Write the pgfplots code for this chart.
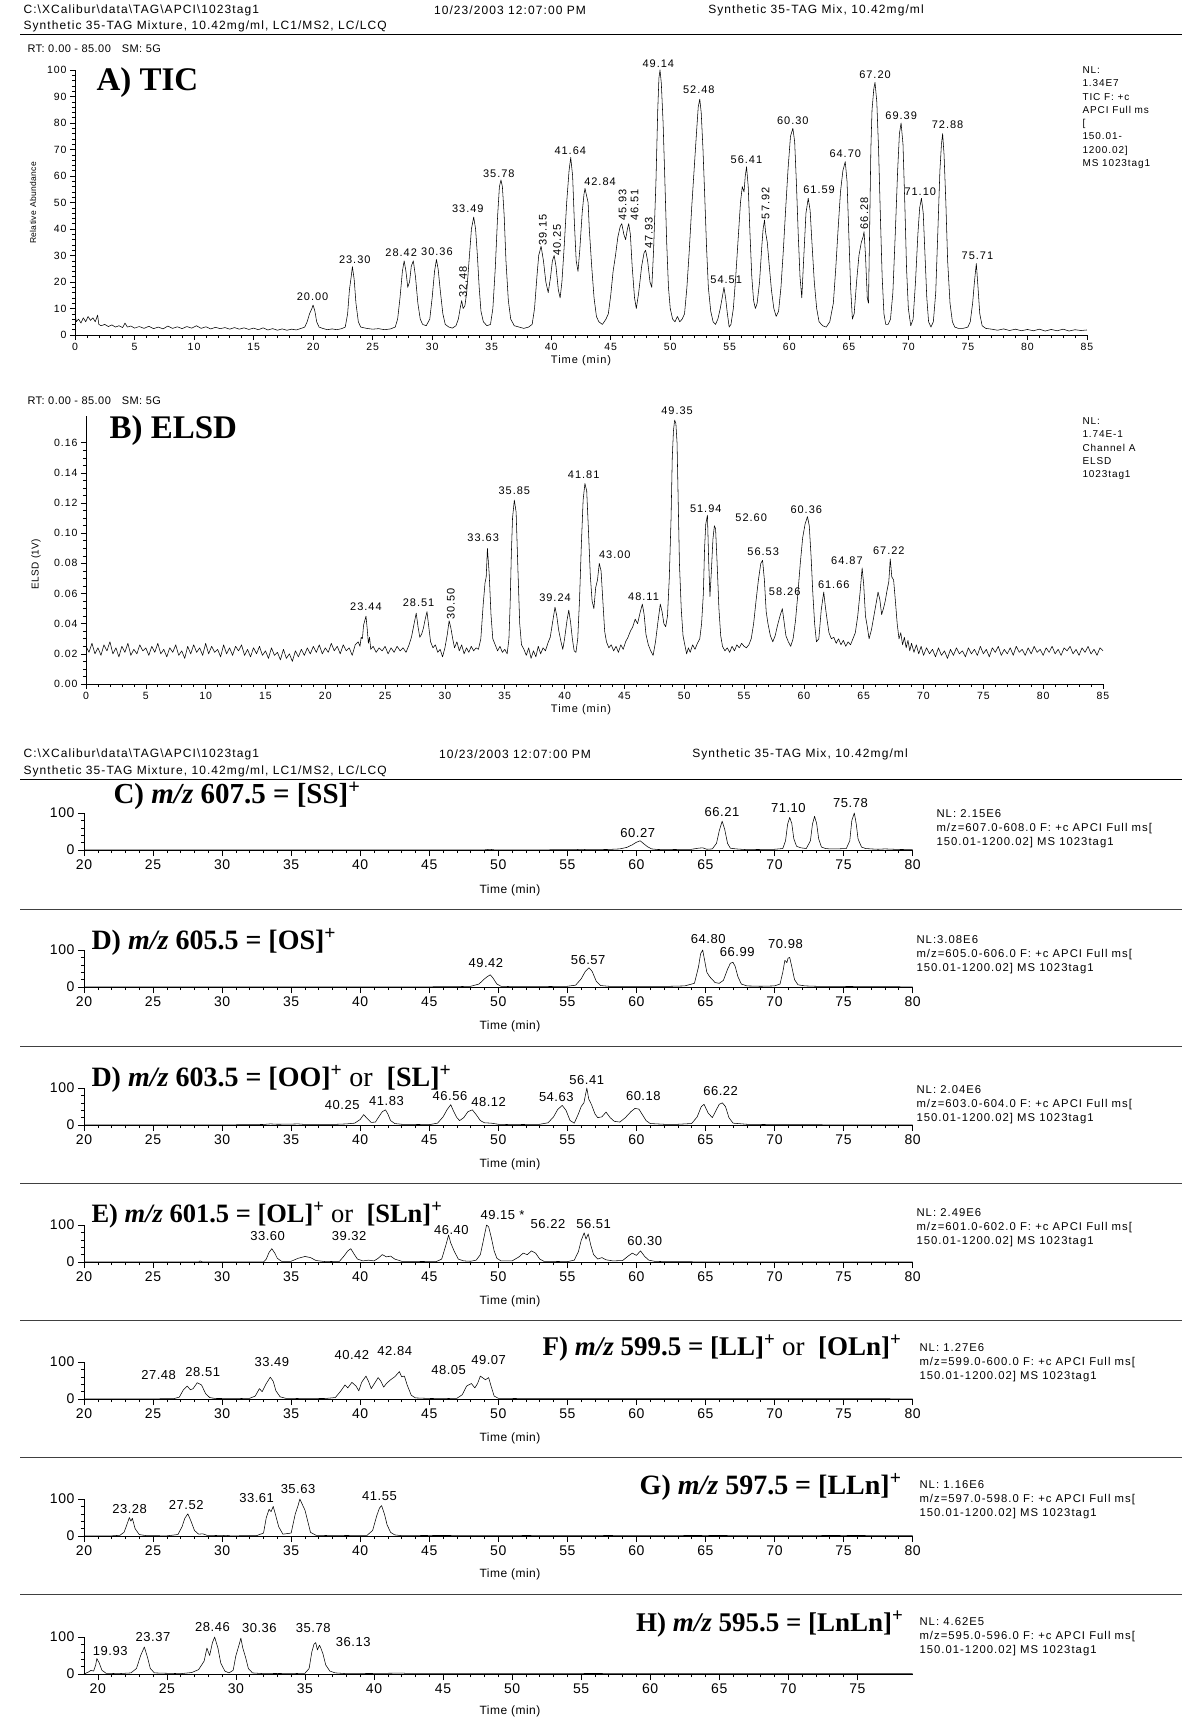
\documentclass[border=0pt]{standalone}
\usepackage{fontspec}
\setmainfont{Liberation Sans}
\newfontfamily\xc[LetterSpace=4]{Liberation Sans}
\newfontfamily\xw[LetterSpace=9]{Liberation Sans}
\newfontfamily\tf{Liberation Serif}
\usepackage{pgfplots}
\pgfplotsset{compat=1.18}
\newcommand\fs[1]{\fontsize{#1}{#1}\selectfont}
\tikzset{lbl/.style={font=\xw\fs{11}, inner sep=0.5pt},
  llb/.style={font=\xc\fs{13}, inner sep=0.5pt},
  nl/.style={anchor=north west, align=left, font=\xw\fontsize{11.3}{14}\selectfont},
  ttl/.style={font=\tf\bfseries\fs{28}}}
\pgfplotsset{
  chrom/.style={scale only axis, axis x line*=bottom, axis y line*=left,
    axis line style={-, line width=0.8pt},
    tick align=outside, major tick length=5pt, minor tick length=3pt,
    every tick/.style={black, line width=0.6pt},
    clip=false, /pgf/number format/assume math mode=true,
    tick label style={font=\xw\fs{10.5}}},
  low/.style={chrom, width=828.6pt, height=37pt, xmin=20, xmax=80, ymin=0, ymax=100,
    xtick={20,25,...,80}, minor x tick num=4, ytick={0,100}, minor y tick num=4,
    tick label style={font=\xc\fs{14}}, major tick length=6pt},
  trace/.style={black, line width=0.55pt, no markers, line join=round},
}
\begin{document}
\begin{tikzpicture}[x=1pt,y=1pt]
\path[use as bounding box] (0,0) rectangle (1182,-1717);
% ---------- header ----------
\node[anchor=west, font=\xw\fs{12}] at (20,-10) {C:\textbackslash XCalibur\textbackslash data\textbackslash TAG\textbackslash APCI\textbackslash 1023tag1};
\node[font=\xw\fs{12}] at (510,-10) {10/23/2003 12:07:00 PM};
\node[font=\xw\fs{12}] at (816,-10) {Synthetic 35-TAG Mix, 10.42mg/ml};
\node[anchor=west, font=\xw\fs{12}] at (20,-26) {Synthetic 35-TAG Mixture, 10.42mg/ml, LC1/MS2, LC/LCQ};
\draw[line width=0.8pt] (20,-34) -- (1182,-34);
\node[anchor=west, font=\xc\fs{11}] at (24,-49) {RT: 0.00 - 85.00\quad SM: 5G};
% ---------- A) TIC ----------
\begin{axis}[chrom, at={(75pt,-335pt)}, anchor=south west, width=1012pt, height=265pt,
  xmin=0, xmax=85, ymin=0, ymax=100, xtick={0,5,...,85}, minor x tick num=4,
  ytick={0,10,...,100}, minor y tick num=4]
\addplot[trace] coordinates {(0,9)(0.1,5)(0.3,6)(0.5,4.5)(0.7,6.5)(0.9,5)(1.1,7)(1.3,5.5)(1.5,6.5)(1.7,5)(1.9,7.5)(2.0,4)(2.2,3.5)(2.5,4)(2.8,3.2)(3.1,3.8)(3.4,3)(3.7,3.5)(4.0,2.8)(4.2,4.5)(4.4,3)(4.7,3.4)(5.0,2.6)(5.4,3.2)(5.8,2.5)(6.2,3.3)(6.6,2.4)(7.0,3)(7.4,2.3)(7.8,3.4)(8.2,2.5)(8.6,3.1)(9.0,2.4)(9.4,3.2)(9.8,2.6)(10.2,3.5)(10.6,2.5)(11.0,3.1)(11.4,2.3)(11.8,2.9)(12.2,2.4)(12.6,2.8)(13.0,2.2)(13.4,2.8)(13.8,2.2)(14.2,2.7)(14.6,2.1)(15.0,2.6)(15.4,2)(15.8,2.7)(16.2,1.9)(16.6,2.4)(17.0,1.8)(17.4,2.3)(17.8,1.8)(18.2,2.2)(18.6,1.9)(19.0,2.5)(19.3,3)(19.5,5)(19.7,8)(19.9,10)(20.0,11.3)(20.15,9)(20.3,5)(20.5,3)(20.8,2.5)(21.2,2)(21.6,2.3)(22.0,2)(22.4,2.4)(22.7,3)(22.9,8)(23.05,17)(23.2,22)(23.3,25.8)(23.45,21)(23.6,12)(23.8,5)(24.0,3)(24.5,2.5)(25,2.2)(25.5,2.4)(26,2)(26.5,2.3)(26.9,3)(27.1,6)(27.3,14)(27.5,24)(27.65,28)(27.8,24)(27.95,18)(28.1,20)(28.25,26)(28.42,28)(28.6,22)(28.8,12)(29.0,6)(29.2,4)(29.5,3.5)(29.8,6)(30.0,14)(30.2,24)(30.36,28.5)(30.5,25)(30.7,16)(30.9,8)(31.1,4)(31.4,3)(31.7,2.6)(32.0,3.5)(32.2,6)(32.35,10)(32.48,13)(32.6,10)(32.75,11)(32.9,16)(33.1,28)(33.3,40)(33.49,44.5)(33.65,40)(33.8,30)(33.95,18)(34.1,9)(34.3,5)(34.6,3.5)(34.9,4)(35.1,10)(35.3,25)(35.5,45)(35.65,56)(35.78,58.5)(35.9,56)(36.05,45)(36.2,28)(36.4,13)(36.6,6)(36.9,3.5)(37.3,3)(37.7,2.5)(38.1,3)(38.4,4)(38.6,10)(38.8,22)(38.95,30)(39.15,33.5)(39.35,28)(39.55,20)(39.75,16)(39.95,22)(40.1,28)(40.25,30)(40.4,26)(40.6,17)(40.75,14)(40.9,20)(41.1,34)(41.3,50)(41.5,62)(41.64,67)(41.8,60)(41.95,42)(42.1,28)(42.25,24)(42.4,32)(42.6,46)(42.75,53)(42.84,55.3)(42.95,53)(43.1,50)(43.2,40)(43.4,26)(43.6,14)(43.8,7)(44.0,5)(44.3,4)(44.6,6)(44.8,8)(45.0,15)(45.2,24)(45.4,30)(45.6,37)(45.8,41)(45.93,42)(46.1,38)(46.25,36)(46.4,40)(46.51,42)(46.65,38)(46.8,26)(47.0,14)(47.15,10)(47.35,16)(47.6,26)(47.8,31)(47.93,32)(48.1,28)(48.3,20)(48.45,18)(48.6,32)(48.8,58)(48.95,85)(49.05,97)(49.14,100)(49.25,95)(49.4,80)(49.55,58)(49.7,35)(49.85,18)(50.0,10)(50.2,6)(50.4,5)(50.6,7)(50.8,5)(51.0,6)(51.2,8)(51.4,18)(51.6,32)(51.8,48)(52.0,62)(52.2,76)(52.35,86)(52.48,89)(52.6,84)(52.75,70)(52.9,52)(53.05,33)(53.2,18)(53.4,9)(53.6,5)(53.8,4)(54.0,6)(54.2,10)(54.4,15)(54.51,18)(54.65,14)(54.8,8)(54.95,3)(55.1,4)(55.3,10)(55.5,22)(55.7,36)(55.9,50)(56.05,56)(56.2,54)(56.3,60)(56.41,63.5)(56.55,56)(56.7,38)(56.85,22)(57.0,13)(57.15,10)(57.3,12)(57.5,20)(57.7,34)(57.8,40)(57.92,43.4)(58.0,39)(58.15,35)(58.3,27)(58.5,17)(58.7,10)(58.9,7)(59.1,9)(59.3,18)(59.5,32)(59.7,48)(59.9,63)(60.1,75)(60.3,78)(60.45,73)(60.6,57)(60.75,38)(60.9,22)(61.05,14)(61.2,28)(61.4,46)(61.59,51.6)(61.75,47)(61.9,35)(62.1,20)(62.3,10)(62.5,5)(62.8,3.5)(63.1,3)(63.4,5)(63.7,12)(63.9,25)(64.1,40)(64.3,54)(64.5,62)(64.7,65.4)(64.85,58)(65.0,38)(65.15,18)(65.3,6)(65.45,8)(65.65,20)(65.85,30)(66.05,35)(66.2,37)(66.28,39)(66.4,30)(66.55,14)(66.65,12)(66.75,40)(66.85,70)(66.95,85)(67.1,93)(67.2,95.3)(67.35,88)(67.5,70)(67.65,45)(67.8,22)(67.95,8)(68.1,4)(68.3,4)(68.5,6)(68.7,16)(68.9,38)(69.1,62)(69.25,76)(69.39,80)(69.55,72)(69.7,50)(69.85,25)(70.0,10)(70.2,3.5)(70.4,6)(70.6,20)(70.8,38)(70.95,48)(71.1,51.6)(71.25,46)(71.4,30)(71.55,14)(71.7,5)(71.9,3)(72.1,5)(72.3,16)(72.5,42)(72.65,62)(72.78,72)(72.88,76)(73.0,68)(73.15,50)(73.3,28)(73.5,12)(73.7,5)(73.9,3)(74.2,2.5)(74.6,2.5)(75.0,3)(75.2,5)(75.4,12)(75.55,20)(75.71,27)(75.85,18)(76.0,8)(76.2,3.5)(76.5,2.5)(77,2.2)(77.5,1.8)(78,2.3)(78.5,1.7)(79,2.2)(79.5,1.6)(80,2.1)(80.5,1.6)(81,2.2)(81.5,1.5)(82,2.1)(82.5,1.6)(83,2.2)(83.5,1.5)(84,2)(84.5,1.7)(85,1.9)};
\node[lbl] at (axis cs:19.96,14.5) {20.00};
\node[lbl] at (axis cs:23.5,28.6) {23.30};
\node[lbl] at (axis cs:27.4,31) {28.42};
\node[lbl] at (axis cs:30.4,31.4) {30.36};
\node[lbl,rotate=90] at (axis cs:32.6,20.1) {32.48};
\node[lbl] at (axis cs:33.0,47.5) {33.49};
\node[lbl] at (axis cs:35.6,61) {35.78};
\node[lbl,rotate=90] at (axis cs:39.3,39.6) {39.15};
\node[lbl,rotate=90] at (axis cs:40.5,35.8) {40.25};
\node[lbl] at (axis cs:41.6,69.5) {41.64};
\node[lbl] at (axis cs:44.1,57.8) {42.84};
\node[lbl,rotate=90] at (axis cs:46.0,49) {45.93};
\node[lbl,rotate=90] at (axis cs:47.0,49) {46.51};
\node[lbl,rotate=90] at (axis cs:48.2,38.6) {47.93};
\node[lbl] at (axis cs:49.0,102.5) {49.14};
\node[lbl] at (axis cs:52.4,92.5) {52.48};
\node[lbl] at (axis cs:54.7,20.8) {54.51};
\node[lbl] at (axis cs:56.4,66.3) {56.41};
\node[lbl,rotate=90] at (axis cs:58.0,49.7) {57.92};
\node[lbl] at (axis cs:60.3,80.8) {60.30};
\node[lbl] at (axis cs:62.5,55) {61.59};
\node[lbl] at (axis cs:64.7,68.3) {64.70};
\node[lbl,rotate=90] at (axis cs:66.3,45.9) {66.28};
\node[lbl] at (axis cs:67.2,98.1) {67.20};
\node[lbl] at (axis cs:69.4,82.6) {69.39};
\node[lbl] at (axis cs:71.0,54) {71.10};
\node[lbl] at (axis cs:73.3,79.2) {72.88};
\node[lbl] at (axis cs:75.8,30) {75.71};
\end{axis}
\node[anchor=base west, font=\tf\bfseries\fs{33}] at (93,-90) {A) TIC};
\node[rotate=90, font=\xc\fs{8.5}] at (33,-203) {Relative Abundance};
\node[anchor=north west, align=left, font=\xw\fontsize{10}{13.3}\selectfont] at (1079,-63) {NL:\\1.34E7\\TIC F: +c\\APCI Full ms\\{[}\\150.01-\\1200.02]\\MS 1023tag1};
\node[font=\xw\fs{11}] at (581,-361) {Time (min)};
% ---------- B) ELSD ----------
\node[anchor=west, font=\xc\fs{11}] at (24,-401) {RT: 0.00 - 85.00\quad SM: 5G};
\begin{axis}[chrom, at={(86pt,-684pt)}, anchor=south west, width=1017pt, height=268.4pt,
  xmin=0, xmax=85, ymin=0, ymax=0.178, xtick={0,5,...,85}, minor x tick num=4,
  ytick={0,0.02,0.04,0.06,0.08,0.10,0.12,0.14,0.16}, minor y tick num=3, scaled y ticks=false,
  yticklabel style={/pgf/number format/.cd, fixed, fixed zerofill, precision=2}]
\addplot[trace] coordinates {(0,0.025)(0.25,0.021)(0.5,0.027)(0.75,0.020)(1,0.024)(1.25,0.019)(1.5,0.026)(1.75,0.022)(2,0.028)(2.25,0.020)(2.5,0.024)(2.75,0.018)(3,0.025)(3.25,0.021)(3.5,0.027)(3.75,0.019)(4,0.023)(4.25,0.020)(4.5,0.026)(4.75,0.022)(5,0.024)(5.25,0.019)(5.5,0.025)(5.75,0.021)(6,0.027)(6.25,0.020)(6.5,0.023)(6.75,0.018)(7,0.024)(7.25,0.021)(7.5,0.026)(7.75,0.019)(8,0.022)(8.25,0.017)(8.5,0.025)(8.75,0.020)(9,0.026)(9.25,0.021)(9.5,0.024)(9.75,0.019)(10,0.027)(10.25,0.020)(10.5,0.025)(10.75,0.021)(11,0.023)(11.25,0.018)(11.5,0.026)(11.75,0.020)(12,0.024)(12.25,0.019)(12.5,0.025)(12.75,0.022)(13,0.026)(13.25,0.019)(13.5,0.023)(13.75,0.018)(14,0.024)(14.25,0.020)(14.5,0.025)(14.75,0.019)(15,0.022)(15.25,0.017)(15.5,0.024)(15.75,0.019)(16,0.021)(16.25,0.016)(16.5,0.023)(16.75,0.017)(17,0.020)(17.25,0.015)(17.5,0.022)(17.75,0.018)(18,0.023)(18.25,0.019)(18.5,0.024)(18.75,0.020)(19,0.025)(19.25,0.021)(19.5,0.026)(19.75,0.020)(20,0.024)(20.25,0.021)(20.5,0.027)(20.75,0.022)(21,0.025)(21.25,0.020)(21.5,0.026)(21.75,0.022)(22,0.024)(22.25,0.019)(22.5,0.026)(22.75,0.028)(22.9,0.025)(23.0,0.031)(23.1,0.030)(23.2,0.039)(23.3,0.042)(23.4,0.045)(23.5,0.037)(23.6,0.027)(23.7,0.031)(23.8,0.023)(24,0.025)(24.25,0.021)(24.5,0.024)(24.75,0.022)(25,0.025)(25.25,0.020)(25.5,0.024)(25.75,0.021)(26,0.025)(26.25,0.022)(26.5,0.024)(26.75,0.021)(27,0.026)(27.2,0.031)(27.4,0.039)(27.6,0.047)(27.75,0.038)(27.9,0.031)(28.05,0.033)(28.2,0.037)(28.35,0.043)(28.5,0.048)(28.65,0.038)(28.8,0.028)(29.0,0.024)(29.2,0.026)(29.4,0.021)(29.6,0.023)(29.8,0.018)(30.0,0.024)(30.2,0.033)(30.35,0.042)(30.5,0.037)(30.65,0.030)(30.8,0.024)(31.0,0.028)(31.2,0.022)(31.4,0.026)(31.6,0.020)(31.8,0.024)(32.0,0.021)(32.2,0.025)(32.4,0.022)(32.6,0.024)(32.8,0.023)(33.0,0.030)(33.2,0.053)(33.35,0.067)(33.45,0.071)(33.55,0.090)(33.7,0.073)(33.85,0.046)(34.0,0.030)(34.2,0.026)(34.4,0.022)(34.6,0.025)(34.8,0.021)(35.0,0.023)(35.2,0.020)(35.35,0.030)(35.45,0.053)(35.55,0.086)(35.65,0.110)(35.8,0.122)(35.95,0.114)(36.1,0.076)(36.25,0.040)(36.4,0.026)(36.6,0.023)(36.8,0.019)(37.0,0.024)(37.2,0.017)(37.4,0.022)(37.6,0.018)(37.8,0.025)(38.0,0.020)(38.2,0.024)(38.4,0.022)(38.6,0.027)(38.8,0.031)(39.0,0.041)(39.2,0.051)(39.35,0.045)(39.5,0.036)(39.7,0.028)(39.85,0.023)(40.0,0.030)(40.2,0.042)(40.35,0.049)(40.5,0.041)(40.65,0.030)(40.8,0.022)(40.95,0.021)(41.1,0.030)(41.25,0.056)(41.4,0.092)(41.55,0.122)(41.7,0.133)(41.85,0.128)(42.0,0.101)(42.15,0.072)(42.3,0.055)(42.45,0.050)(42.6,0.064)(42.75,0.069)(42.9,0.080)(43.05,0.075)(43.2,0.055)(43.35,0.035)(43.5,0.028)(43.7,0.024)(43.9,0.026)(44.1,0.022)(44.3,0.025)(44.5,0.021)(44.7,0.026)(44.9,0.023)(45.1,0.028)(45.3,0.031)(45.5,0.035)(45.7,0.038)(45.9,0.043)(46.1,0.040)(46.3,0.047)(46.5,0.053)(46.65,0.046)(46.8,0.033)(47.0,0.026)(47.2,0.022)(47.4,0.019)(47.6,0.028)(47.8,0.041)(48.0,0.053)(48.15,0.048)(48.3,0.040)(48.45,0.038)(48.6,0.045)(48.75,0.070)(48.9,0.110)(49.0,0.150)(49.1,0.168)(49.2,0.175)(49.3,0.173)(49.4,0.160)(49.5,0.120)(49.6,0.080)(49.75,0.050)(49.9,0.032)(50.05,0.026)(50.2,0.020)(50.35,0.024)(50.5,0.021)(50.7,0.026)(50.9,0.023)(51.1,0.027)(51.3,0.030)(51.45,0.040)(51.6,0.060)(51.7,0.090)(51.8,0.106)(51.94,0.112)(52.05,0.080)(52.15,0.058)(52.25,0.072)(52.4,0.096)(52.52,0.105)(52.62,0.103)(52.75,0.080)(52.9,0.050)(53.05,0.032)(53.2,0.025)(53.4,0.022)(53.6,0.024)(53.8,0.021)(54.0,0.025)(54.2,0.022)(54.4,0.026)(54.6,0.024)(54.8,0.027)(55.0,0.025)(55.2,0.024)(55.4,0.026)(55.6,0.030)(55.8,0.040)(56.0,0.055)(56.2,0.069)(56.4,0.080)(56.55,0.082)(56.7,0.069)(56.85,0.048)(57.0,0.040)(57.2,0.032)(57.4,0.028)(57.6,0.032)(57.8,0.039)(58.0,0.045)(58.2,0.050)(58.35,0.041)(58.5,0.032)(58.7,0.028)(58.9,0.025)(59.1,0.030)(59.3,0.042)(59.5,0.060)(59.7,0.080)(59.9,0.097)(60.1,0.106)(60.3,0.111)(60.45,0.105)(60.6,0.085)(60.75,0.060)(60.9,0.040)(61.05,0.028)(61.25,0.030)(61.45,0.049)(61.66,0.061)(61.8,0.051)(61.95,0.042)(62.1,0.034)(62.3,0.030)(62.5,0.031)(62.7,0.027)(62.9,0.030)(63.1,0.026)(63.3,0.029)(63.5,0.025)(63.7,0.028)(63.9,0.026)(64.1,0.030)(64.3,0.034)(64.5,0.045)(64.7,0.061)(64.87,0.077)(65.0,0.066)(65.15,0.045)(65.3,0.038)(65.45,0.030)(65.65,0.036)(65.85,0.045)(66.05,0.054)(66.2,0.061)(66.35,0.056)(66.5,0.046)(66.65,0.050)(66.8,0.055)(66.95,0.062)(67.1,0.068)(67.22,0.083)(67.35,0.071)(67.5,0.069)(67.65,0.055)(67.8,0.040)(67.95,0.030)(68.1,0.034)(68.25,0.026)(68.4,0.031)(68.55,0.024)(68.7,0.029)(68.85,0.022)(69.0,0.027)(69.2,0.021)(69.4,0.026)(69.6,0.020)(69.8,0.025)(70,0.019)(70.25,0.024)(70.5,0.020)(70.75,0.023)(71,0.018)(71.25,0.024)(71.5,0.019)(71.75,0.022)(72,0.017)(72.25,0.023)(72.5,0.019)(72.75,0.024)(73,0.020)(73.25,0.022)(73.5,0.018)(73.75,0.024)(74,0.020)(74.25,0.023)(74.5,0.019)(74.75,0.025)(75,0.020)(75.25,0.023)(75.5,0.018)(75.75,0.024)(76,0.021)(76.25,0.025)(76.5,0.019)(76.75,0.023)(77,0.020)(77.25,0.024)(77.5,0.019)(77.75,0.025)(78,0.021)(78.25,0.023)(78.5,0.019)(78.75,0.024)(79,0.020)(79.25,0.025)(79.5,0.021)(79.75,0.023)(80,0.019)(80.25,0.024)(80.5,0.021)(80.75,0.025)(81,0.020)(81.25,0.023)(81.5,0.019)(81.75,0.024)(82,0.022)(82.25,0.025)(82.5,0.020)(82.75,0.023)(83,0.019)(83.25,0.024)(83.5,0.021)(83.75,0.025)(84,0.020)(84.25,0.023)(84.5,0.019)(84.75,0.024)(85,0.022)};
\node[lbl] at (axis cs:23.4,0.051) {23.44};
\node[lbl] at (axis cs:27.8,0.054) {28.51};
\node[lbl,rotate=90] at (axis cs:30.5,0.053) {30.50};
\node[lbl] at (axis cs:33.2,0.097) {33.63};
\node[lbl] at (axis cs:35.8,0.128) {35.85};
\node[lbl] at (axis cs:39.2,0.057) {39.24};
\node[lbl] at (axis cs:41.6,0.139) {41.81};
\node[lbl] at (axis cs:44.2,0.086) {43.00};
\node[lbl] at (axis cs:46.6,0.058) {48.11};
\node[lbl] at (axis cs:49.4,0.181) {49.35};
\node[lbl] at (axis cs:51.8,0.116) {51.94};
\node[lbl] at (axis cs:55.6,0.1105) {52.60};
\node[lbl] at (axis cs:56.6,0.0877) {56.53};
\node[lbl] at (axis cs:58.4,0.061) {58.26};
\node[lbl] at (axis cs:60.2,0.1154) {60.36};
\node[lbl] at (axis cs:62.5,0.066) {61.66};
\node[lbl] at (axis cs:63.6,0.0818) {64.87};
\node[lbl] at (axis cs:67.1,0.0882) {67.22};
\end{axis}
\node[anchor=base west, font=\tf\bfseries\fs{33}] at (106,-438) {B) ELSD};
\node[rotate=90, font=\xc\fs{10}] at (36,-564) {ELSD (1V)};
\node[anchor=north west, align=left, font=\xw\fontsize{10}{13.3}\selectfont] at (1079,-414) {NL:\\1.74E-1\\Channel A\\ELSD\\1023tag1};
\node[font=\xw\fs{11}] at (581,-710) {Time (min)};
% ---------- second header ----------
\node[anchor=west, font=\xw\fs{12}] at (20,-754) {C:\textbackslash XCalibur\textbackslash data\textbackslash TAG\textbackslash APCI\textbackslash 1023tag1};
\node[font=\xw\fs{12}] at (515,-754) {10/23/2003 12:07:00 PM};
\node[font=\xw\fs{12}] at (800,-754) {Synthetic 35-TAG Mix, 10.42mg/ml};
\node[anchor=west, font=\xw\fs{12}] at (20,-771) {Synthetic 35-TAG Mixture, 10.42mg/ml, LC1/MS2, LC/LCQ};
\draw[line width=0.8pt] (20,-779) -- (1182,-779);
% separators
\foreach \yy in {909,1046,1183,1320,1457,1594} {\draw[line width=1pt, black!75] (20,-\yy) -- (1182,-\yy);}
% ---------- C ----------
\begin{axis}[low, at={(84pt,-850pt)}, anchor=south west]
\addplot[trace] coordinates {(20,0)(28,0)(28.5,0.5)(29,0.3)(30,0.5)(31,0.3)(33,0.6)(35,0.3)(38,0.5)(40,0.3)(45,0.4)(49,0.5)(49.4,2)(49.7,0.5)(52,0.5)(55.5,0.8)(56,2)(56.5,0.8)(58,1.5)(58.8,3)(59.3,7)(59.7,14)(60.0,21)(60.27,25)(60.5,18)(60.8,9)(61.1,3)(61.5,1.5)(62,1)(63,1.5)(64,2)(64.5,5)(64.8,6)(65.1,2)(65.5,3)(65.8,18)(66.0,52)(66.21,78)(66.4,55)(66.6,18)(66.8,5)(67.2,3)(67.6,2)(68,1)(69,1.5)(70,2)(70.6,4)(70.8,25)(70.95,70)(71.1,88)(71.25,72)(71.4,30)(71.6,10)(71.9,6)(72.3,4)(72.6,25)(72.75,70)(72.9,91)(73.05,72)(73.2,30)(73.4,8)(73.7,4)(74,3)(74.5,3)(75.2,4)(75.45,25)(75.6,80)(75.78,100)(75.92,70)(76.05,30)(76.3,8)(76.6,4)(77,3)(77.5,2)(78,3)(79,1.5)(80,1)};
\node[llb] at (axis cs:60.1,47) {60.27};
\node[llb] at (axis cs:66.2,104) {66.21};
\node[llb] at (axis cs:71.0,113) {71.10};
\node[llb] at (axis cs:75.5,127) {75.78};
\end{axis}
\node[anchor=base west, font=\tf\bfseries\fs{29}] at (110,-803) {C) \textit{m/z} 607.5 = [SS]\textsuperscript{+}};
\node[nl] at (933,-806) {NL: 2.15E6\\m/z=607.0-608.0 F: +c APCI Full ms[\\150.01-1200.02] MS 1023tag1};
\node[font=\xc\fs{12}] at (510,-890) {Time (min)};
% ---------- D1 ----------
\begin{axis}[low, at={(84pt,-987pt)}, anchor=south west]
\addplot[trace] coordinates {(20,0)(30,0.3)(35,0.5)(40,0.4)(45,0.6)(47,1)(48,2)(48.6,8)(49.0,22)(49.2,28)(49.42,33)(49.6,25)(49.9,8)(50.2,2)(51,1)(53,1)(55,2)(55.6,5)(56.0,22)(56.3,42)(56.57,52)(56.8,42)(57.1,15)(57.4,4)(58,2)(60,1.5)(62,1.5)(63.5,3)(64.2,10)(64.5,55)(64.65,90)(64.8,100)(64.95,70)(65.1,40)(65.3,28)(65.5,20)(65.7,12)(66.0,10)(66.3,18)(66.6,48)(66.8,64)(66.99,67)(67.15,56)(67.35,28)(67.6,8)(68,3)(69,2)(70,3)(70.4,8)(70.6,40)(70.75,72)(70.9,66)(70.98,78)(71.1,80)(71.25,55)(71.45,20)(71.7,6)(72.2,3)(73,2)(75,1.5)(77,1)(80,0.5)};
\node[llb] at (axis cs:49.1,64) {49.42};
\node[llb] at (axis cs:56.5,73) {56.57};
\node[llb] at (axis cs:65.2,130) {64.80};
\node[llb] at (axis cs:67.3,94) {66.99};
\node[llb] at (axis cs:70.8,115) {70.98};
\end{axis}
\node[anchor=base west, ttl] at (88,-949) {D) \textit{m/z} 605.5 = [OS]\textsuperscript{+}};
\node[nl] at (913,-932) {NL:3.08E6\\m/z=605.0-606.0 F: +c APCI Full ms[\\150.01-1200.02] MS 1023tag1};
\node[font=\xc\fs{12}] at (510,-1026) {Time (min)};
% ---------- D2 ----------
\begin{axis}[low, at={(84pt,-1125pt)}, anchor=south west]
\addplot[trace] coordinates {(20,0)(25,0)(30,0.5)(32,0.8)(33,1.5)(33.5,3)(34,2)(35,2.5)(35.5,3)(36,1.5)(37,2)(38,1.5)(39,3)(39.6,5)(40.0,15)(40.25,28)(40.5,18)(40.8,7)(41.1,8)(41.4,25)(41.6,36)(41.83,41)(42.0,30)(42.2,12)(42.5,4)(43,2)(45,1)(45.6,5)(46.0,22)(46.3,42)(46.56,55)(46.75,38)(47.0,20)(47.2,12)(47.5,20)(47.8,36)(48.12,41)(48.4,28)(48.7,12)(49.0,6)(49.5,5)(50,2)(51,1)(53,2)(53.6,6)(54.0,22)(54.3,42)(54.63,53)(54.9,40)(55.2,12)(55.5,5)(55.8,30)(56.0,50)(56.2,60)(56.41,100)(56.55,70)(56.75,55)(57.0,30)(57.2,20)(57.5,22)(57.8,35)(58.1,20)(58.4,10)(58.8,8)(59.2,20)(59.6,36)(59.9,45)(60.18,43)(60.4,30)(60.7,12)(61.0,4)(62,2)(63,2)(64,4)(64.4,22)(64.7,50)(64.9,56)(65.2,32)(65.5,20)(65.8,42)(66.0,56)(66.22,60)(66.45,50)(66.7,20)(67.0,5)(68,2)(70,1)(75,0.5)(80,0.3)};
\node[llb] at (axis cs:38.7,53) {40.25};
\node[llb] at (axis cs:41.9,66) {41.83};
\node[llb] at (axis cs:46.5,79) {46.56};
\node[llb] at (axis cs:49.3,62) {48.12};
\node[llb] at (axis cs:54.2,76) {54.63};
\node[llb] at (axis cs:56.4,121) {56.41};
\node[llb] at (axis cs:60.5,79) {60.18};
\node[llb] at (axis cs:66.1,91) {66.22};
\end{axis}
\node[anchor=base west, ttl] at (88,-1086) {D) \textit{m/z} 603.5 = [OO]\textsuperscript{+} {\mdseries or}\ \ [SL]\textsuperscript{+}};
\node[nl] at (913,-1082) {NL: 2.04E6\\m/z=603.0-604.0 F: +c APCI Full ms[\\150.01-1200.02] MS 1023tag1};
\node[font=\xc\fs{12}] at (510,-1164) {Time (min)};
% ---------- E ----------
\begin{axis}[low, at={(84pt,-1262pt)}, anchor=south west]
\addplot[trace] coordinates {(20,0)(28.3,0)(28.4,3)(28.6,0)(33,0)(33.2,8)(33.4,26)(33.6,36)(33.8,25)(34.0,10)(34.3,2)(35,2)(35.5,10)(36.0,15)(36.4,12)(36.8,4)(37.5,1)(38.5,2)(38.8,15)(39.1,30)(39.32,36)(39.55,22)(39.8,8)(40.2,3)(40.6,5)(41,3)(41.3,10)(41.6,20)(41.9,14)(42.2,16)(42.5,8)(43,2)(45.5,1)(45.9,8)(46.2,45)(46.4,73)(46.55,52)(46.8,30)(47.1,8)(47.5,3)(48,2)(48.4,5)(48.7,20)(48.9,55)(49.05,82)(49.15,100)(49.3,95)(49.5,65)(49.7,30)(49.9,10)(50.2,3)(51,3)(51.5,14)(51.8,24)(52.1,20)(52.4,30)(52.7,24)(53.0,8)(53.3,2)(55,1)(55.5,5)(55.8,28)(56.0,58)(56.22,79)(56.35,62)(56.51,76)(56.7,45)(56.9,20)(57.2,8)(57.5,12)(57.8,6)(58.3,3)(59,4)(59.4,16)(59.7,24)(60.0,18)(60.3,30)(60.6,15)(60.9,5)(61.3,2)(62,1)(65,0.5)(70,0.5)(80,0.3)};
\node[llb] at (axis cs:33.3,70) {33.60};
\node[llb] at (axis cs:39.2,70) {39.32};
\node[llb] at (axis cs:46.6,86) {46.40};
\node[llb] at (axis cs:50.3,127) {49.15 *};
\node[llb] at (axis cs:53.6,103) {56.22};
\node[llb] at (axis cs:56.9,103) {56.51};
\node[llb] at (axis cs:60.6,58) {60.30};
\end{axis}
\node[anchor=base west, font=\tf\bfseries\fs{26.5}] at (88,-1222) {E) \textit{m/z} 601.5 = [OL]\textsuperscript{+} {\mdseries or}\ \ [SLn]\textsuperscript{+}};
\node[nl] at (913,-1205) {NL: 2.49E6\\m/z=601.0-602.0 F: +c APCI Full ms[\\150.01-1200.02] MS 1023tag1};
\node[font=\xc\fs{12}] at (510,-1301) {Time (min)};
% ---------- F ----------
\begin{axis}[low, at={(84pt,-1399pt)}, anchor=south west]
\addplot[trace] coordinates {(20,0)(25,0.5)(26.5,1)(26.9,5)(27.2,25)(27.48,35)(27.7,25)(27.9,28)(28.2,44)(28.51,38)(28.8,15)(29.1,4)(29.5,1.5)(31,1)(32,2)(32.4,8)(32.7,28)(32.9,20)(33.2,42)(33.49,59)(33.7,48)(33.9,22)(34.2,6)(34.6,2)(36,1)(37.5,1.5)(38.2,4)(38.6,22)(38.9,38)(39.1,30)(39.4,45)(39.7,35)(39.9,22)(40.1,45)(40.42,62)(40.6,48)(40.8,28)(41.0,40)(41.3,58)(41.5,48)(41.7,32)(41.9,42)(42.2,52)(42.5,60)(42.84,74)(43.0,60)(43.2,62)(43.4,38)(43.7,10)(44.0,3)(45,1.5)(46,1)(47,2)(47.4,12)(47.7,35)(48.05,42)(48.3,30)(48.5,42)(48.7,62)(49.07,52)(49.3,58)(49.5,32)(49.7,8)(50,2)(52,1)(55,1)(60,0.8)(65,1)(70,0.8)(75,1)(80,0.5)};
\node[llb] at (axis cs:25.4,65) {27.48};
\node[llb] at (axis cs:28.6,74) {28.51};
\node[llb] at (axis cs:33.6,100) {33.49};
\node[llb] at (axis cs:39.4,118) {40.42};
\node[llb] at (axis cs:42.5,129) {42.84};
\node[llb] at (axis cs:46.4,79) {48.05};
\node[llb] at (axis cs:49.3,106) {49.07};
\end{axis}
\node[anchor=base east, font=\tf\bfseries\fs{27}] at (905,-1355) {F) \textit{m/z} 599.5 = [LL]\textsuperscript{+} {\mdseries or}\ \ [OLn]\textsuperscript{+}};
\node[nl] at (916,-1340) {NL: 1.27E6\\m/z=599.0-600.0 F: +c APCI Full ms[\\150.01-1200.02] MS 1023tag1};
\node[font=\xc\fs{12}] at (510,-1438) {Time (min)};
% ---------- G ----------
\begin{axis}[low, at={(84pt,-1536pt)}, anchor=south west]
\addplot[trace] coordinates {(20,0)(22,0.5)(22.6,2)(22.9,10)(23.1,30)(23.28,50)(23.4,40)(23.5,48)(23.7,20)(24.0,4)(24.5,1)(26,0.5)(26.8,4)(27.1,25)(27.3,48)(27.52,60)(27.75,40)(28.0,15)(28.3,5)(28.6,6)(28.9,2)(30,1)(30.3,2)(30.6,0.5)(32.5,1)(33.0,8)(33.2,50)(33.4,72)(33.55,66)(33.7,80)(33.85,60)(34.1,25)(34.4,5)(35.0,8)(35.3,60)(35.5,82)(35.63,100)(35.8,86)(36.0,70)(36.2,40)(36.4,10)(36.8,2)(38,1)(40.5,2)(40.9,15)(41.2,55)(41.4,76)(41.55,82)(41.75,60)(41.95,30)(42.2,10)(42.5,3)(43,1)(45,1.5)(50,1)(55,2)(60,1)(65,1.5)(70,1)(75,1.5)(80,1)};
\node[llb] at (axis cs:23.3,73) {23.28};
\node[llb] at (axis cs:27.4,85) {27.52};
\node[llb] at (axis cs:32.5,104) {33.61};
\node[llb] at (axis cs:35.5,127) {35.63};
\node[llb] at (axis cs:41.4,109) {41.55};
\end{axis}
\node[anchor=base east, ttl] at (905,-1494) {G) \textit{m/z} 597.5 = [LLn]\textsuperscript{+}};
\node[nl] at (916,-1477) {NL: 1.16E6\\m/z=597.0-598.0 F: +c APCI Full ms[\\150.01-1200.02] MS 1023tag1};
\node[font=\xc\fs{12}] at (510,-1574) {Time (min)};
% ---------- H ----------
\begin{axis}[low, at={(84pt,-1674pt)}, anchor=south west, xmin=19, xmax=79, xtick={20,25,...,75}]
\addplot[trace] coordinates {(19,0)(19.3,5)(19.5,10)(19.7,8)(19.85,25)(19.93,42)(20.1,30)(20.3,10)(20.6,2)(21.5,1)(22.4,3)(22.8,15)(23.1,50)(23.37,73)(23.6,45)(23.8,15)(24.1,3)(25,2)(26,1)(26.8,4)(27.3,12)(27.7,35)(27.9,70)(28.1,50)(28.3,85)(28.46,100)(28.7,70)(28.9,30)(29.2,8)(29.5,3)(29.8,10)(30.0,50)(30.2,75)(30.36,97)(30.5,70)(30.7,45)(30.9,15)(31.2,3)(32,1)(33,1.5)(34,1)(35,2)(35.3,15)(35.5,60)(35.65,80)(35.78,85)(35.9,65)(36.05,78)(36.13,72)(36.3,55)(36.5,25)(36.8,8)(37.2,3)(38,1)(40,1.5)(42,2.5)(42.5,1.5)(45,1.5)(48,2)(50,1.5)(55,1.5)(60,1)(65,1)(70,1)(75,1)(79,1)};
\node[llb] at (axis cs:20.9,62) {19.93};
\node[llb] at (axis cs:24.0,100) {23.37};
\node[llb] at (axis cs:28.3,128) {28.46};
\node[llb] at (axis cs:31.7,124) {30.36};
\node[llb] at (axis cs:35.6,124) {35.78};
\node[llb] at (axis cs:38.5,87) {36.13};
\end{axis}
\node[anchor=base east, font=\tf\bfseries\fs{27}] at (907,-1631) {H) \textit{m/z} 595.5 = [LnLn]\textsuperscript{+}};
\node[nl] at (916,-1614) {NL: 4.62E5\\m/z=595.0-596.0 F: +c APCI Full ms[\\150.01-1200.02] MS 1023tag1};
\node[font=\xc\fs{12}] at (510,-1711) {Time (min)};
\end{tikzpicture}
\end{document}
